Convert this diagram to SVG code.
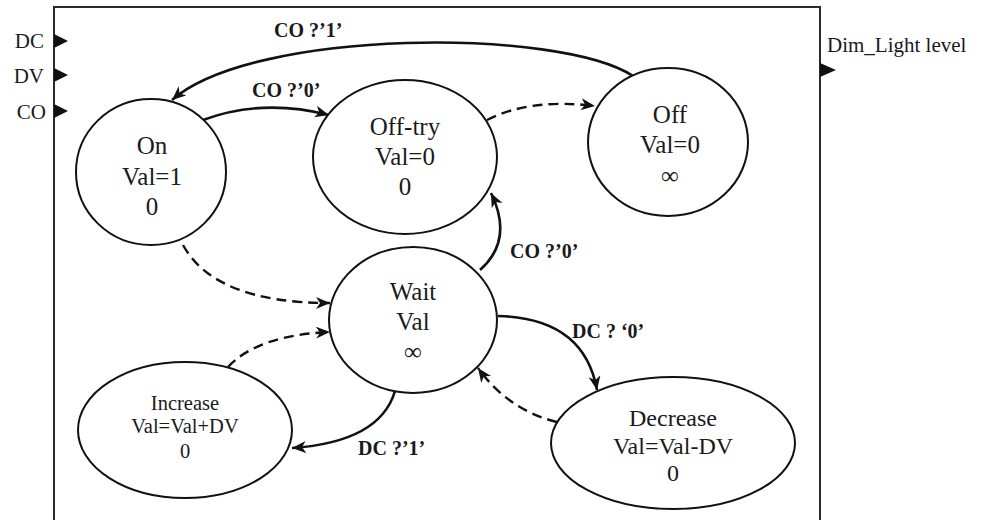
<svg xmlns="http://www.w3.org/2000/svg" width="981" height="520" viewBox="0 0 981 520">
  <style>
    .frame { fill: none; stroke: #2a2a2a; stroke-width: 2; }
    .port { fill: #111; }
    .portlabel { font-family: "Liberation Serif", "Times New Roman", serif; font-size: 21px; fill: #1a1a1a; }
    .state { fill: #fff; stroke: #111; stroke-width: 2; }
    .stxt { font-family: "Liberation Serif", "Times New Roman", serif; font-size: 25px; fill: #1a1a1a; text-anchor: middle; }
    .stxt-m { font-size: 24px; }
    .stxt-s { font-size: 20.5px; }
    .edge { fill: none; stroke: #111; stroke-width: 2.6; }
    .dashed { stroke-dasharray: 10 6; stroke-width: 2.4; }
    .elabel { font-family: "Liberation Serif", "Times New Roman", serif; font-size: 20px; font-weight: bold; fill: #1a1a1a; }
  </style>
  <defs>
    <marker id="arrow" markerUnits="userSpaceOnUse" markerWidth="16" markerHeight="14" refX="14" refY="6" orient="auto">
      <path d="M0,0 L14,6 L0,12 L4,6 z" fill="#111"/>
    </marker>
  </defs>

  <!-- component frame -->
  <rect class="frame" x="54" y="7" width="766" height="525"/>

  <!-- input ports -->
  <g id="port-DC">
    <polygon class="port" points="54,34 68,41 54,48"/>
    <text class="portlabel" x="44" y="48" text-anchor="end">DC</text>
  </g>
  <g id="port-DV">
    <polygon class="port" points="54,68 68,75 54,82"/>
    <text class="portlabel" x="44" y="83" text-anchor="end">DV</text>
  </g>
  <g id="port-CO">
    <polygon class="port" points="54,104 68,111 54,118"/>
    <text class="portlabel" x="46" y="119" text-anchor="end">CO</text>
  </g>
  <!-- output port -->
  <g id="port-out">
    <polygon class="port" points="820,63 836,70 820,77"/>
    <text class="portlabel" x="827" y="52">Dim_Light level</text>
  </g>

  <!-- transitions -->
  <g id="connectors">
    <path class="edge" d="M633,76 C560,28 255,28 172,100" marker-end="url(#arrow)"/>
    <text class="elabel" x="274" y="37">CO ?’1’</text>

    <path class="edge" d="M203,120 Q262,98 329,115" marker-end="url(#arrow)"/>
    <text class="elabel" x="252" y="97">CO ?’0’</text>

    <path class="edge dashed" d="M487,120 Q530,98 595,106" marker-end="url(#arrow)"/>

    <path class="edge dashed" d="M183,245 Q215,303 330,303" marker-end="url(#arrow)"/>

    <path class="edge" d="M480,270 Q514,240 491,193" marker-end="url(#arrow)"/>
    <text class="elabel" x="510" y="258">CO ?’0’</text>

    <path class="edge" d="M498,316 Q584,318 597,390" marker-end="url(#arrow)"/>
    <text class="elabel" x="572" y="338">DC ? ‘0’</text>

    <path class="edge dashed" d="M557,422 Q508,410 478,368" marker-end="url(#arrow)"/>

    <path class="edge dashed" d="M228,367 Q258,335 330,332" marker-end="url(#arrow)"/>

    <path class="edge" d="M395,391 Q380,442 292,448" marker-end="url(#arrow)"/>
    <text class="elabel" x="358" y="455">DC ?’1’</text>
  </g>

  <!-- states -->
  <g id="state-on">
    <ellipse class="state" cx="151" cy="172" rx="75" ry="73"/>
    <text class="stxt" x="152" y="154">On</text>
    <text class="stxt" x="152" y="185">Val=1</text>
    <text class="stxt" x="152" y="215">0</text>
  </g>
  <g id="state-offtry">
    <ellipse class="state" cx="405" cy="157" rx="92" ry="77"/>
    <text class="stxt" x="405" y="135">Off-try</text>
    <text class="stxt" x="405" y="165">Val=0</text>
    <text class="stxt" x="405" y="195">0</text>
  </g>
  <g id="state-off">
    <ellipse class="state" cx="668" cy="142" rx="80" ry="74"/>
    <text class="stxt" x="670" y="123">Off</text>
    <text class="stxt" x="670" y="153">Val=0</text>
    <text class="stxt" x="670" y="184">∞</text>
  </g>
  <g id="state-wait">
    <ellipse class="state" cx="413" cy="320" rx="84" ry="73"/>
    <text class="stxt" x="413" y="300">Wait</text>
    <text class="stxt" x="413" y="330">Val</text>
    <text class="stxt" x="413" y="360">∞</text>
  </g>
  <g id="state-increase">
    <ellipse class="state" cx="185" cy="430" rx="107" ry="68"/>
    <text class="stxt stxt-s" x="185" y="410">Increase</text>
    <text class="stxt stxt-s" x="185" y="433">Val=Val+DV</text>
    <text class="stxt stxt-s" x="185" y="458">0</text>
  </g>
  <g id="state-decrease">
    <ellipse class="state" cx="673" cy="443" rx="122" ry="66"/>
    <text class="stxt stxt-m" x="673" y="426">Decrease</text>
    <text class="stxt stxt-m" x="673" y="454">Val=Val-DV</text>
    <text class="stxt stxt-m" x="673" y="481">0</text>
  </g>
</svg>
